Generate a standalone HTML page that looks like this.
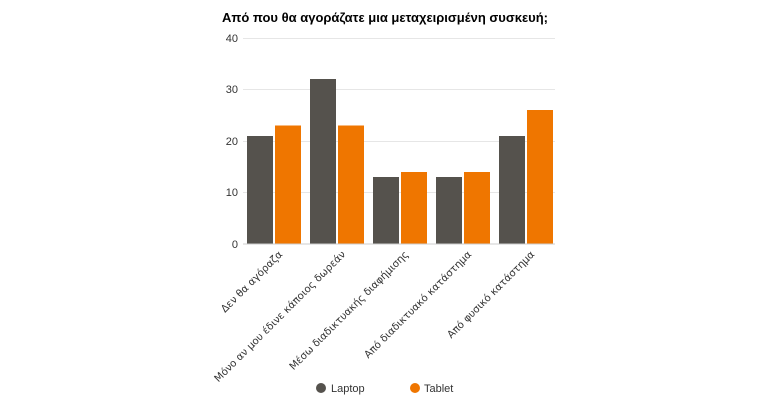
<!DOCTYPE html>
<html><head><meta charset="utf-8"><style>
html,body{margin:0;padding:0;background:#fff;}
svg{display:block;font-family:"Liberation Sans","DejaVu Sans",sans-serif;}
</style></head><body>
<svg width="770" height="400" viewBox="0 0 770 400" xmlns="http://www.w3.org/2000/svg">
<text x="385" y="22" text-anchor="middle" font-size="13" font-weight="bold" fill="#000">Από που θα αγοράζατε μια μεταχειρισμένη συσκευή;</text>
<g stroke="#e6e6e6" stroke-width="1">
<line x1="243" x2="555" y1="38.5" y2="38.5"/>
<line x1="243" x2="555" y1="89.5" y2="89.5"/>
<line x1="243" x2="555" y1="141.5" y2="141.5"/>
<line x1="243" x2="555" y1="192.5" y2="192.5"/>
</g>
<g font-size="11" fill="#333" text-anchor="end">
<text x="238" y="42">40</text>
<text x="238" y="93">30</text>
<text x="238" y="145">20</text>
<text x="238" y="196">10</text>
<text x="238" y="248">0</text>
</g>
<g fill="#55524d">
<rect x="247" y="136" width="26" height="108"/>
<rect x="310" y="79" width="26" height="165"/>
<rect x="373" y="177" width="26" height="67"/>
<rect x="436" y="177" width="26" height="67"/>
<rect x="499" y="136" width="26" height="108"/>
</g>
<g fill="#ef7600">
<rect x="275" y="125.5" width="26" height="118.5"/>
<rect x="338" y="125.5" width="26" height="118.5"/>
<rect x="401" y="172" width="26" height="72"/>
<rect x="464" y="172" width="26" height="72"/>
<rect x="527" y="110" width="26" height="134"/>
</g>
<line x1="243" x2="555" y1="244" y2="244" stroke="#ccc"/>
<g font-size="10.2" fill="#333" text-anchor="end" font-family="DejaVu Sans, sans-serif">
<text transform="translate(283,255) rotate(-45)">Δεν θα αγόραζα</text>
<text transform="translate(346,255) rotate(-45)">Μόνο αν μου έδινε κάποιος δωρεάν</text>
<text transform="translate(409,255) rotate(-45)">Μέσω διαδικτυακής διαφήμισης</text>
<text transform="translate(472,255) rotate(-45)">Από διαδικτυακό κατάστημα</text>
<text transform="translate(535,255) rotate(-45)">Από φυσικό κατάστημα</text>
</g>
<circle cx="321" cy="388" r="5" fill="#55524d"/>
<text x="331" y="392" font-size="11" fill="#333">Laptop</text>
<circle cx="415" cy="388" r="5" fill="#ef7600"/>
<text x="424" y="392" font-size="11" fill="#333">Tablet</text>
</svg>
</body></html>
